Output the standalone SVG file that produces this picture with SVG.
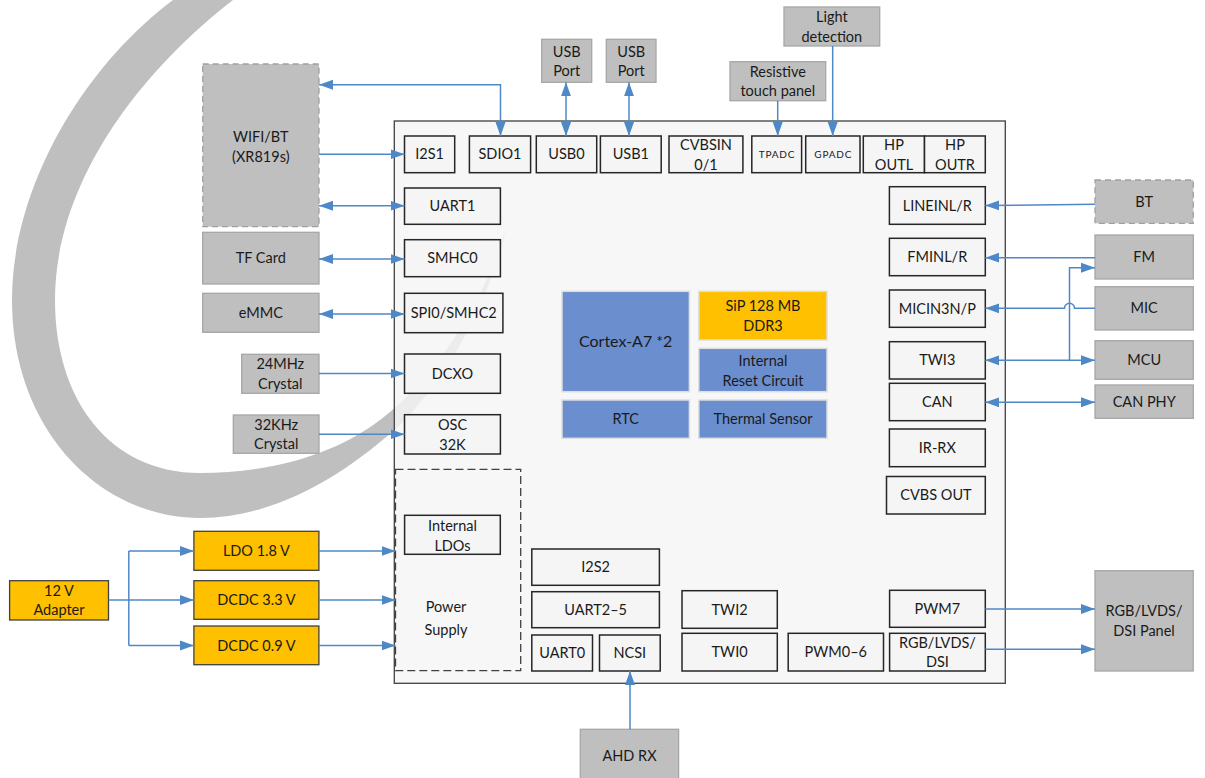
<svg xmlns="http://www.w3.org/2000/svg" width="1205" height="778" viewBox="0 0 1205 778">
<defs>
<style>
text{font-family:Lato,"Open Sans","Liberation Sans",sans-serif;font-size:14.5px;fill:#1a1a1a;text-anchor:middle}
.ext{fill:#bfbfbf;stroke:#a6a6a6;stroke-width:1.3}
.extd{fill:#bfbfbf;stroke:#a0a0a0;stroke-width:1.3;stroke-dasharray:6 4}
.blk{fill:#f5f5f5;stroke:#262626;stroke-width:1.5}
.org{fill:#ffc000;stroke:#404040;stroke-width:1.3}
.orgl{fill:#ffc000;stroke:#dedede;stroke-width:1.5}
.blu{fill:#6b8ecf;stroke:#dedede;stroke-width:1.5}
.sm{font-size:10px;letter-spacing:0.8px}
.big{font-size:16px}
.cn path{fill:none;stroke:#4f88c6;stroke-width:1.5}
</style>
<marker id="ah" viewBox="0 0 14 10" refX="14" refY="5" markerWidth="14" markerHeight="10.5" markerUnits="userSpaceOnUse" orient="auto-start-reverse"><path d="M0,0 L14,5 L0,10 z" fill="#4f88c6"/></marker>
</defs>
<rect width="1205" height="778" fill="#ffffff"/>
<g id="watermark">
<path d="M173,0 C80,70 12,190 12,300 C12,430 100,518 200,518 C280,518 350,470 400,425 C450,375 490,300 507,225 C485,300 440,370 390,412 C340,455 270,473 200,473 C110,473 55,400 55,300 C55,190 130,80 233,0 Z" fill="#bfbfbf"/>
</g>
<g id="chip">
<rect x="394.3" y="121" width="611" height="562.3" fill="#f5f5f5" fill-opacity="0.82" stroke="#404040" stroke-width="1.3"/>
</g>
<g id="power-supply">
<rect x="395.5" y="469.3" width="125.2" height="201.4" fill="none" stroke="#404040" stroke-width="1.3" stroke-dasharray="8 4"/>
<text x="446" y="612">Power</text>
<text x="446" y="635">Supply</text>
</g>
<g id="internal-ldos"><rect class="blk" x="404.6" y="515.3" width="95.7" height="39"/><text x="452.5" y="530.5">Internal</text><text x="452.5" y="550.5">LDOs</text></g>
<g id="i2s1"><rect class="blk" x="404.5" y="136" width="50.2" height="36.7"/><text x="429.6" y="159.3">I2S1</text></g>
<g id="sdio1"><rect class="blk" x="469.4" y="136" width="61.2" height="36.7"/><text x="500" y="159.3">SDIO1</text></g>
<g id="usb0"><rect class="blk" x="536.3" y="136" width="60.4" height="36.7"/><text x="566.5" y="159.3">USB0</text></g>
<g id="usb1"><rect class="blk" x="600.4" y="136" width="60.8" height="36.7"/><text x="630.8" y="159.3">USB1</text></g>
<g id="cvbsin"><rect class="blk" x="669" y="136" width="73.9" height="36.7"/><text x="706" y="149.5">CVBSIN</text><text x="706" y="169.5">0/1</text></g>
<g id="tpadc"><rect class="blk" x="751.8" y="136" width="49.8" height="36.7"/><text class="sm" x="777" y="158">TPADC</text></g>
<g id="gpadc"><rect class="blk" x="805.7" y="136" width="54.3" height="36.7"/><text class="sm" x="833.3" y="158">GPADC</text></g>
<g id="hp-outl"><rect class="blk" x="863.3" y="136" width="61.2" height="36.7"/><text x="894" y="150">HP</text><text x="894" y="170">OUTL</text></g>
<g id="hp-outr"><rect class="blk" x="924.5" y="136" width="60.8" height="36.7"/><text x="955" y="150">HP</text><text x="955" y="170">OUTR</text></g>
<g id="uart1"><rect class="blk" x="404.5" y="188" width="95.9" height="36.3"/><text x="452.5" y="211">UART1</text></g>
<g id="smhc0"><rect class="blk" x="404.5" y="239.7" width="95.9" height="37"/><text x="452.5" y="263">SMHC0</text></g>
<g id="spi0-smhc2"><rect class="blk" x="404.5" y="293.3" width="98.4" height="39.4"/><text x="453.7" y="318">SPI0/SMHC2</text></g>
<g id="dcxo"><rect class="blk" x="404.5" y="354" width="95.9" height="39.3"/><text x="452.5" y="378.7">DCXO</text></g>
<g id="osc32k"><rect class="blk" x="404.5" y="414.7" width="95.9" height="39.3"/><text x="452.5" y="429.5">OSC</text><text x="452.5" y="449.5">32K</text></g>
<g id="cortex"><rect class="blu" x="562" y="291.3" width="127.4" height="100.4"/><text class="big" x="625.7" y="347">Cortex-A7 *2</text></g>
<g id="sip-ddr3"><rect class="orgl" x="698.8" y="291.3" width="128.2" height="48.7"/><text x="763" y="310.5">SiP 128 MB</text><text x="763" y="330.5">DDR3</text></g>
<g id="reset"><rect class="blu" x="698.8" y="348.3" width="128.2" height="43.4"/><text x="763" y="365.5">Internal</text><text x="763" y="385.5">Reset Circuit</text></g>
<g id="rtc"><rect class="blu" x="562" y="400" width="127.4" height="38.3"/><text x="625.7" y="424">RTC</text></g>
<g id="thermal"><rect class="blu" x="698.8" y="400" width="128.2" height="38.3"/><text x="763" y="424">Thermal Sensor</text></g>
<g id="lineinlr"><rect class="blk" x="889.4" y="186.7" width="95.9" height="37.6"/><text x="937.3" y="210.5">LINEINL/R</text></g>
<g id="fminlr"><rect class="blk" x="889.4" y="238.3" width="95.9" height="37.4"/><text x="937.3" y="262">FMINL/R</text></g>
<g id="micin3np"><rect class="blk" x="889.4" y="290" width="95.9" height="37.3"/><text x="937.3" y="313.7">MICIN3N/P</text></g>
<g id="twi3"><rect class="blk" x="889.4" y="341.7" width="95.9" height="37.3"/><text x="937.3" y="365.3">TWI3</text></g>
<g id="can"><rect class="blk" x="889.4" y="383.3" width="95.9" height="37.4"/><text x="937.3" y="407">CAN</text></g>
<g id="ir-rx"><rect class="blk" x="889.4" y="429" width="95.9" height="37.7"/><text x="937.3" y="452.8">IR-RX</text></g>
<g id="cvbs-out"><rect class="blk" x="886.5" y="476.5" width="98.8" height="37.5"/><text x="936" y="500.2">CVBS OUT</text></g>
<g id="i2s2"><rect class="blk" x="531.8" y="549" width="127.6" height="36.3"/><text x="595.6" y="572">I2S2</text></g>
<g id="uart2-5"><rect class="blk" x="531.8" y="591.7" width="127.6" height="36"/><text x="595.6" y="614.7">UART2–5</text></g>
<g id="uart0"><rect class="blk" x="531.8" y="635" width="60.7" height="36"/><text x="562.2" y="658">UART0</text></g>
<g id="ncsi"><rect class="blk" x="599.5" y="635" width="60.7" height="36"/><text x="629.8" y="658">NCSI</text></g>
<g id="twi2"><rect class="blk" x="682" y="590.7" width="95.3" height="37.6"/><text x="729.6" y="614.5">TWI2</text></g>
<g id="twi0"><rect class="blk" x="682" y="633.3" width="95.3" height="37.7"/><text x="729.6" y="657">TWI0</text></g>
<g id="pwm0-6"><rect class="blk" x="788.2" y="633.3" width="95.3" height="37.7"/><text x="835.8" y="657">PWM0–6</text></g>
<g id="pwm7"><rect class="blk" x="889.6" y="590.3" width="95.7" height="37"/><text x="937.4" y="613.8">PWM7</text></g>
<g id="rgb-lvds-dsi"><rect class="blk" x="889.6" y="633.3" width="95.7" height="37.7"/><text x="937.4" y="647.5">RGB/LVDS/</text><text x="937.4" y="666.5">DSI</text></g>
<g id="wifi-bt"><rect class="extd" x="202.7" y="64" width="116.3" height="162.7"/><text x="260.8" y="141.7">WIFI/BT</text><text x="260.8" y="161.7">(XR819s)</text></g>
<g id="tf-card"><rect class="ext" x="202.7" y="232.3" width="116.3" height="51.7"/><text x="260.8" y="263.2">TF Card</text></g>
<g id="emmc"><rect class="ext" x="202.7" y="293.3" width="116.3" height="39"/><text x="260.8" y="317.8">eMMC</text></g>
<g id="crystal24"><rect class="ext" x="241.7" y="354.3" width="77.3" height="39"/><text x="280.3" y="369">24MHz</text><text x="280.3" y="388.5">Crystal</text></g>
<g id="crystal32"><rect class="ext" x="233.3" y="415" width="85.7" height="38.3"/><text x="276.2" y="429.5">32KHz</text><text x="276.2" y="449">Crystal</text></g>
<g id="usb-port0"><rect class="ext" x="541.7" y="39.3" width="50" height="43"/><text x="566.7" y="56.5">USB</text><text x="566.7" y="75.7">Port</text></g>
<g id="usb-port1"><rect class="ext" x="606.3" y="39.3" width="49.7" height="43"/><text x="631.2" y="56.5">USB</text><text x="631.2" y="75.7">Port</text></g>
<g id="touch-panel"><rect class="ext" x="730" y="61.7" width="95.7" height="39"/><text x="777.8" y="77.3">Resistive</text><text x="777.8" y="96">touch panel</text></g>
<g id="light-detection"><rect class="ext" x="784" y="7" width="95.7" height="39"/><text x="831.8" y="22">Light</text><text x="831.8" y="41.5">detection</text></g>
<g id="bt"><rect class="extd" x="1095" y="180" width="98.3" height="43.3"/><text x="1144.2" y="206.8">BT</text></g>
<g id="fm"><rect class="ext" x="1095" y="235" width="98.3" height="44"/><text x="1144.2" y="262">FM</text></g>
<g id="mic"><rect class="ext" x="1095" y="286.7" width="98.3" height="43.3"/><text x="1144.2" y="313.3">MIC</text></g>
<g id="mcu"><rect class="ext" x="1095" y="340.7" width="98.3" height="38.6"/><text x="1144.2" y="365">MCU</text></g>
<g id="can-phy"><rect class="ext" x="1095" y="385" width="98.3" height="33.3"/><text x="1144.2" y="406.7">CAN PHY</text></g>
<g id="panel"><rect class="ext" x="1095" y="570.7" width="98.2" height="100.3"/><text x="1144" y="615.5">RGB/LVDS/</text><text x="1144" y="635.5">DSI Panel</text></g>
<g id="ahd-rx"><rect class="ext" x="580.3" y="729.3" width="98.3" height="52"/><text x="629.5" y="760.5">AHD RX</text></g>
<g id="adapter"><rect class="org" x="9.6" y="580.7" width="98.9" height="39.3"/><text x="59" y="595.5">12 V</text><text x="59" y="615">Adapter</text></g>
<g id="ldo18"><rect class="org" x="193.9" y="531.3" width="125" height="39"/><text x="256.4" y="556">LDO 1.8 V</text></g>
<g id="dcdc33"><rect class="org" x="193.9" y="580.7" width="125" height="38.6"/><text x="256.4" y="605">DCDC 3.3 V</text></g>
<g id="dcdc09"><rect class="org" x="193.9" y="626" width="125" height="38.7"/><text x="256.4" y="650.5">DCDC 0.9 V</text></g>
<g id="connectors" class="cn">
<path d="M319,154.3 H404.5" marker-end="url(#ah)"/>
<path d="M319,84.7 H500.5 V136" marker-start="url(#ah)" marker-end="url(#ah)"/>
<path d="M319,205.7 H404.5" marker-start="url(#ah)" marker-end="url(#ah)"/>
<path d="M319,259 H404.5" marker-start="url(#ah)" marker-end="url(#ah)"/>
<path d="M319,314 H404.5" marker-start="url(#ah)" marker-end="url(#ah)"/>
<path d="M319,373.5 H404.5" marker-end="url(#ah)"/>
<path d="M319,434.3 H404.5" marker-end="url(#ah)"/>
<path d="M566,82.3 V136" marker-start="url(#ah)" marker-end="url(#ah)"/>
<path d="M629,82.3 V136" marker-start="url(#ah)" marker-end="url(#ah)"/>
<path d="M777.7,100.7 V136" marker-end="url(#ah)"/>
<path d="M832.7,46 V136" marker-end="url(#ah)"/>
<path d="M1095,204.3 L985.3,205.5" marker-end="url(#ah)"/>
<path d="M1095,257.7 H985.3" marker-end="url(#ah)"/>
<path d="M1095,308.3 H1074.5 A5,5 0 0 0 1064.5,308.3 H985.3" marker-end="url(#ah)"/>
<path d="M985.3,360.3 H1095" marker-start="url(#ah)" marker-end="url(#ah)"/>
<path d="M1069.5,360.3 V267.7 H1095" marker-end="url(#ah)"/>
<path d="M985.3,402.3 H1095" marker-start="url(#ah)" marker-end="url(#ah)"/>
<path d="M985.3,609 H1095" marker-end="url(#ah)"/>
<path d="M985.3,649.3 H1095" marker-end="url(#ah)"/>
<path d="M630,729.3 V671" marker-end="url(#ah)"/>
<path d="M108.5,600 H193.9" marker-end="url(#ah)"/>
<path d="M128.8,551 V645.5"/>
<path d="M128.8,551 H193.9" marker-end="url(#ah)"/>
<path d="M128.8,645.5 H193.9" marker-end="url(#ah)"/>
<path d="M318.9,551 H395.5" marker-end="url(#ah)"/>
<path d="M318.9,600 H395.5" marker-end="url(#ah)"/>
<path d="M318.9,645.5 H395.5" marker-end="url(#ah)"/>
</g>
</svg>
